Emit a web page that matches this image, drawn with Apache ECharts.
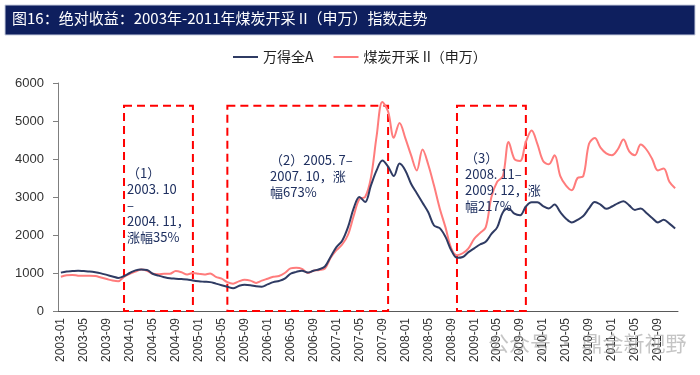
<!DOCTYPE html>
<html>
<head>
<meta charset="utf-8">
<script src="https://cdn.jsdelivr.net/npm/echarts@6/dist/echarts.min.js"></script>
<style>
  html, body { margin: 0; padding: 0; background: #fff; }
  #chart { width: 700px; height: 375px; }
</style>
</head>
<body>
<div id="chart"></div>
<script>
// 月份：2003-01 ~ 2011-12
const months = [];
for (let y = 2003; y <= 2011; y++) {
  for (let m = 1; m <= 12; m++) months.push(y + '-' + (m < 10 ? '0' + m : m));
}

// 万得全A
const windA = [
  1010, 1040, 1050, 1060, 1050, 1040, 1020, 990, 950, 910, 870, 920,
  1000, 1070, 1090, 1080, 980, 930, 890, 860, 850, 840, 830, 800,
  780, 770, 760, 720, 680, 640, 600, 660, 690, 680, 650, 640,
  700, 760, 790, 850, 980, 1030, 1060, 1010, 1060, 1100, 1170, 1430,
  1680, 1850, 2200, 2700, 3000, 2870, 3300, 3700, 3960, 3800, 3550, 3880,
  3700, 3350, 3100, 2850, 2600, 2250, 2180, 1950, 1600, 1400, 1420, 1550,
  1650, 1750, 1820, 2030, 2200, 2600, 2700, 2560, 2520, 2750, 2860, 2860,
  2760, 2700, 2800, 2600, 2430, 2330, 2400, 2500, 2700, 2870, 2800, 2690,
  2750, 2830, 2890, 2780, 2660, 2700, 2580, 2450, 2330, 2400, 2300, 2170
];

// 煤炭开采II（申万）
const coal = [
  900, 940, 950, 930, 925, 930, 920, 880, 840, 800, 780, 900,
  980, 1040, 1090, 1060, 980, 970, 980, 980, 1050, 1020, 960, 1000,
  980, 960, 990, 900, 850, 760, 720, 780, 820, 800, 740, 800,
  850, 900, 920, 1000, 1120, 1140, 1110, 1000, 1060, 1080, 1120, 1400,
  1600, 1750, 2000, 2500, 2950, 3000, 3500, 4600, 5500, 5250, 4560, 4950,
  4550, 4100, 3700, 4250, 3850, 3300, 2700, 2200, 1650, 1470, 1520, 1650,
  1900, 2050, 2200, 3000, 3400, 3550, 4450, 4000, 3950, 4450, 4750, 4400,
  3950, 3860, 4100, 3550, 3300, 3180, 3500, 3550, 4400, 4550, 4300, 4150,
  4100, 4250, 4510, 4200, 4100, 4380, 4250, 4000, 3700, 3750, 3400, 3230
];

// 三个上涨区间（方框）
const boxes = [
  ['2003-12', '2004-12'],
  ['2005-06', '2007-10'],
  ['2008-10', '2009-10']
];
const boxTop = 5400;

const notes = [
  { x: 127, y: 165, text: '（1）\n2003. 10\n–\n2004. 11，\n涨幅35%' },
  { x: 270, y: 152, text: '（2）2005. 7–\n2007. 10，涨\n幅673%' },
  { x: 465, y: 150, text: '（3）\n2008. 11–\n2009. 12，涨\n幅217%' }
];

const chart = echarts.init(document.getElementById('chart'));

chart.setOption({
  animation: false,
  backgroundColor: '#fff',
  textStyle: { fontFamily: '"Liberation Sans", "Noto Sans CJK SC", sans-serif' },
  graphic: [
    {
      type: 'rect',
      shape: { x: 5, y: 5, width: 690, height: 30 },
      style: { fill: '#0e1f5e', stroke: '#c9cfe0', lineWidth: 1 },
      z: 10
    },
    {
      type: 'text',
      left: 12, top: 11,
      style: {
        text: '图16：绝对收益：2003年-2011年煤炭开采 II（申万）指数走势',
        fill: '#fff',
        font: '15px "Noto Sans CJK SC"'
      },
      z: 11
    },
    ...notes.map(n => ({
      type: 'text',
      left: n.x, top: n.y,
      style: {
        text: n.text,
        fill: '#1f3060',
        font: '13px "Noto Sans CJK SC"',
        lineHeight: 16
      },
      z: 5
    })),
    {
      type: 'text',
      left: 488, top: 333,
      style: {
        text: '公众号 · 鼎金新视野',
        fill: 'rgba(150,150,150,0.55)',
        font: '21px "Noto Sans CJK SC"'
      },
      z: 20
    }
  ],
  legend: {
    top: 45,
    left: 228,
    itemWidth: 25,
    itemHeight: 2,
    itemGap: 20,
    icon: 'rect',
    textStyle: { fontSize: 14, color: '#222', fontFamily: '"Noto Sans CJK SC"' },
    data: ['万得全A', '煤炭开采 II（申万）']
  },
  grid: { left: 58, right: 22, top: 83, bottom: 64 },
  xAxis: {
    type: 'category',
    data: months,
    boundaryGap: true,
    axisLine: { lineStyle: { color: '#595959', width: 1 } },
    axisTick: { interval: 3, length: 5, lineStyle: { color: '#595959' } },
    axisLabel: { interval: 3, rotate: 90, fontSize: 12, color: '#333', margin: 7 }
  },
  yAxis: {
    type: 'value',
    min: 0, max: 6000, interval: 1000,
    axisLine: { show: true, lineStyle: { color: '#7f7f7f' } },
    axisTick: { show: true, length: 5, lineStyle: { color: '#7f7f7f' } },
    axisLabel: { fontSize: 13, color: '#333', margin: 14, formatter: v => String(v) },
    splitLine: { show: false }
  },
  series: [
    {
      name: '万得全A',
      type: 'line',
      data: windA,
      smooth: 0.35,
      symbol: 'none',
      lineStyle: { color: '#2f3b63', width: 2 },
      itemStyle: { color: '#2f3b63' },
      z: 3
    },
    {
      name: '煤炭开采 II（申万）',
      type: 'line',
      data: coal,
      smooth: 0.35,
      symbol: 'none',
      lineStyle: { color: '#ff7c7c', width: 2 },
      itemStyle: { color: '#ff7c7c' },
      z: 2,
      markArea: {
        silent: true,
        itemStyle: {
          color: 'rgba(0,0,0,0)',
          borderColor: '#ff0000',
          borderWidth: 2,
          borderType: [8, 5]
        },
        data: boxes.map(b => [
          { xAxis: b[0], yAxis: boxTop },
          { xAxis: b[1], yAxis: 0 }
        ])
      }
    }
  ]
});
</script>
</body>
</html>
